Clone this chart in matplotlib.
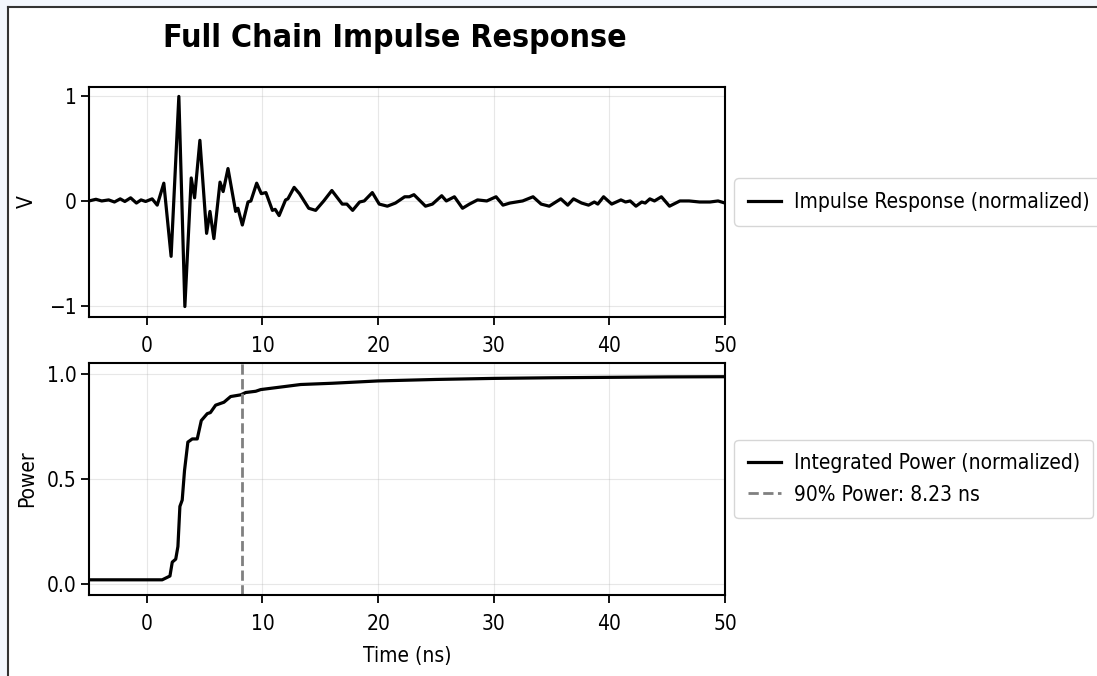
import matplotlib
matplotlib.use("Agg")
import matplotlib.pyplot as plt
from matplotlib.patches import Rectangle
from matplotlib.lines import Line2D

plt.rcParams['font.family'] = ['DejaVu Sans']
plt.rcParams['font.stretch'] = 'condensed'

# impulse response, normalized (time in ns)
t_ir = [-5.0, -4.4, -3.9, -3.3, -2.8, -2.3, -1.9, -1.4, -0.9, -0.5, -0.1, 0.46, 0.9,
        1.47, 2.1, 2.77, 3.29, 3.84, 4.13, 4.59, 5.17, 5.46, 5.8, 6.33, 6.6, 7.02,
        7.68, 7.88, 8.26, 8.75, 9.0, 9.5, 9.9, 10.3, 10.86, 11.1, 11.44, 12.0, 12.2,
        12.74, 13.2, 13.6, 14.0, 14.6, 15.3, 16.0, 16.9, 17.3, 17.8, 18.4, 18.8,
        19.5, 20.1, 20.8, 21.5, 22.3, 22.7, 23.1, 24.1, 24.7, 25.5, 25.9, 26.6,
        27.3, 27.9, 28.6, 29.4, 30.2, 30.8, 31.4, 32.5, 33.4, 34.1, 34.8, 35.8,
        36.4, 36.9, 37.6, 38.2, 38.7, 39.0, 39.5, 40.2, 41.0, 41.4, 41.8, 42.3,
        42.8, 43.1, 43.5, 43.9, 44.5, 45.2, 46.1, 46.9, 47.8, 48.7, 49.4, 50.0]
v_ir = [0.0, 0.016, 0.0, 0.01, -0.01, 0.02, -0.005, 0.03, -0.02, 0.01, -0.005, 0.02, -0.04,
        0.17, -0.53, 1.0, -1.01, 0.22, 0.03, 0.58, -0.31, -0.10, -0.36, 0.18, 0.09, 0.31,
        -0.10, -0.07, -0.23, -0.01, 0.0, 0.17, 0.07, 0.08, -0.09, -0.08, -0.14, 0.01, 0.02,
        0.13, 0.07, 0.0, -0.07, -0.09, 0.0, 0.10, -0.03, -0.03, -0.09, -0.01, 0.0,
        0.08, -0.03, -0.05, -0.02, 0.04, 0.04, 0.06, -0.05, -0.03, 0.05, 0.0, 0.04,
        -0.07, -0.03, 0.01, 0.0, 0.04, -0.04, -0.02, 0.0, 0.04, -0.03, -0.05, 0.02,
        -0.04, 0.02, -0.02, -0.04, -0.01, -0.03, 0.04, -0.03, 0.01, -0.01, 0.0, -0.05,
        -0.01, -0.02, 0.02, 0.0, 0.04, -0.05, 0.0, 0.0, -0.01, -0.01, 0.0, -0.02]

# cumulative power, normalized
t_pw = [-5.0, 1.33, 2.0, 2.2, 2.5, 2.69, 2.86, 3.06, 3.26, 3.55, 3.93, 4.36, 4.71,
        5.23, 5.5, 5.95, 6.67, 7.25, 8.12, 8.55, 9.42, 9.85, 11.87, 13.3, 16.06,
        20.0, 25.0, 30.0, 35.0, 40.0, 45.0, 50.0]
p_pw = [0.022, 0.022, 0.04, 0.106, 0.12, 0.18, 0.37, 0.40, 0.54, 0.675, 0.69, 0.69, 0.777,
        0.81, 0.815, 0.85, 0.864, 0.891, 0.899, 0.91, 0.916, 0.924, 0.938, 0.948, 0.954,
        0.965, 0.972, 0.977, 0.980, 0.982, 0.984, 0.985]
t90 = 8.23

W, H = 1097, 676
fig = plt.figure(figsize=(W / 100, H / 100), dpi=100, facecolor='#f3f7fd')
# white page area with a dark frame edge on top and left
fig.patches.append(Rectangle((7.5 / W, 0), 1, 1 - 6.5 / H, transform=fig.transFigure,
                             facecolor='white', edgecolor='none', zorder=-10))
fig.add_artist(Line2D([7.5 / W, 7.5 / W], [0, 1 - 6.5 / H], color='#333333', lw=1.5, zorder=-5))
fig.add_artist(Line2D([7.5 / W, 1], [1 - 6.5 / H, 1 - 6.5 / H], color='#333333', lw=1.5, zorder=-5))

ax1 = fig.add_axes([89 / W, 1 - 317 / H, 636 / W, 230 / H])
ax2 = fig.add_axes([89 / W, 1 - 595 / H, 636 / W, 232 / H])

fs = 15
leg_kw = dict(loc='center left', bbox_to_anchor=(1.0, 0.5), fontsize=15,
              handlelength=1.6, handletextpad=0.6, borderpad=0.65, labelspacing=0.55,
              borderaxespad=0.45)

ax1.plot(t_ir, v_ir, color='black', lw=2.3, label='Impulse Response (normalized)')
ax1.set_xlim(-5, 50)
ax1.set_ylim(-1.11, 1.09)
ax1.set_yticks([-1, 0, 1])
ax1.set_ylabel('V', fontsize=fs, labelpad=9)
ax1.grid(True, alpha=0.3)
ax1.legend(**leg_kw)

ax2.plot(t_pw, p_pw, color='black', lw=2.3, label='Integrated Power (normalized)')
ax2.axvline(t90, color='gray', ls='--', lw=2, label=f'90% Power: {t90:.2f} ns')
ax2.set_xlim(-5, 50)
ax2.set_ylim(-0.05, 1.05)
ax2.set_yticks([0.0, 0.5, 1.0])
ax2.set_xlabel('Time (ns)', fontsize=fs, labelpad=9)
ax2.set_ylabel('Power', fontsize=fs, labelpad=7)
ax2.grid(True, alpha=0.3)
ax2.legend(**leg_kw)

for ax in (ax1, ax2):
    ax.set_xticks([0, 10, 20, 30, 40, 50])
    ax.tick_params(labelsize=fs, width=1.3, length=5.5)
    ax.tick_params(axis='x', pad=8)
    for s in ax.spines.values():
        s.set_linewidth(1.5)

fig.text(395 / W, 1 - 38 / H, 'Full Chain Impulse Response', ha='center', va='center',
         fontsize=23, fontweight='bold')

fig.savefig('out.png', dpi=100, facecolor=fig.get_facecolor())
